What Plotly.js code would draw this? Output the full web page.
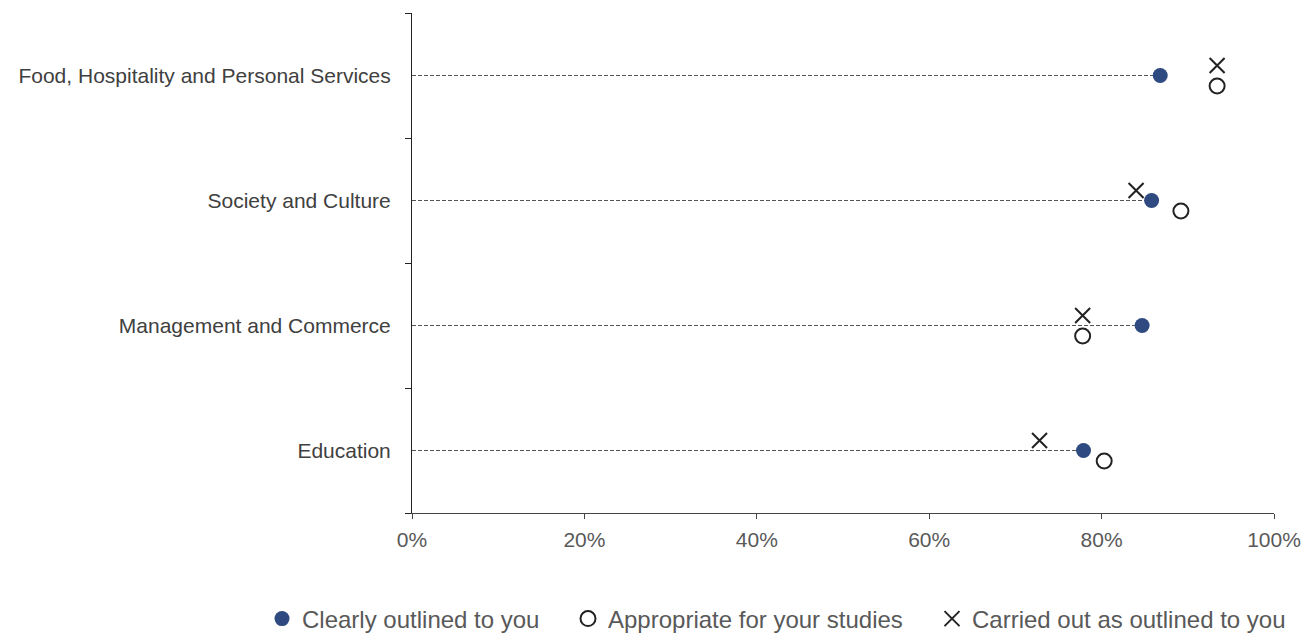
<!DOCTYPE html>
<html><head><meta charset="utf-8">
<script src="https://cdn.plot.ly/plotly-3.0.1.min.js"></script>
<style>html,body{margin:0;padding:0;background:#fff;}#chart{width:1303px;height:636px;}</style>
</head><body><div id="chart"></div>
<script>
const categories = ["Food, Hospitality and Personal Services","Society and Culture","Management and Commerce","Education"];
const clearlyOutlined = [0.868, 0.858, 0.847, 0.779];
const appropriate = [0.934, 0.892, 0.778, 0.803];
const carriedOut = [0.934, 0.840, 0.778, 0.728];
const seriesNames = ["Clearly outlined to you","Appropriate for your studies","Carried out as outlined to you"];
const xTickVals = [0,0.2,0.4,0.6,0.8,1.0];
const xTickText = ["0%","20%","40%","60%","80%","100%"];

const idx = categories.map((c,i)=>i+0.5);
const lx=[], ly=[];
categories.forEach((c,i)=>{ lx.push(0, clearlyOutlined[i], null); ly.push(idx[i], idx[i], null); });

const font = "Liberation Sans, Arial, sans-serif";
const traces = [
  {x:lx, y:ly, mode:'lines', line:{color:'#555', width:1, dash:'4px,2px'}, showlegend:false, hoverinfo:'skip'},
  {x:clearlyOutlined, y:idx, name:seriesNames[0], legend:'legend', mode:'markers', marker:{symbol:'circle', size:15, color:'#2E4A80'}},
  {x:appropriate, y:idx.map(v=>v+0.084), name:seriesNames[1], legend:'legend2', mode:'markers', marker:{symbol:'circle-open', size:15, color:'#222', line:{width:2}}},
  {x:carriedOut, y:idx.map(v=>v-0.08), name:seriesNames[2], legend:'legend3', mode:'markers', marker:{symbol:'x-thin-open', size:15, color:'#222', line:{width:2}}}
];
const legFont = {size:24, color:'#595959'};
const legBase = {orientation:'h', y:-0.212, yanchor:'middle', xanchor:'left', font:legFont, bgcolor:'rgba(0,0,0,0)', borderwidth:0, itemwidth:30};
const layout = {
  width:1303, height:636,
  margin:{l:412, r:29, t:13, b:123, autoexpand:false},
  paper_bgcolor:'#fff', plot_bgcolor:'#fff',
  font:{family:font, size:21, color:'#595959'},
  showlegend:true,
  legend:Object.assign({}, legBase, {x:(262-412)/862}),
  legend2:Object.assign({}, legBase, {x:(568-412)/862}),
  legend3:Object.assign({}, legBase, {x:(932-412)/862}),
  xaxis:{range:[0,1], tickvals:xTickVals, ticktext:xTickText, ticks:'outside', ticklen:5, tickcolor:'#444', showline:true, linecolor:'#444', linewidth:1, showgrid:false, zeroline:false, ticklabelstandoff:3, tickfont:{size:21, color:'#595959'}},
  yaxis:{range:[4,0], tickvals:idx, ticktext:categories, ticks:'', showline:true, linecolor:'#222', linewidth:1, showgrid:false, zeroline:false, ticklabelstandoff:16, tickfont:{size:21, color:'#404040'},
    minor:{tickvals:[0,1,2,3,4], ticks:'outside', ticklen:6, tickcolor:'#222'}}
};
Plotly.newPlot('chart', traces, layout, {displayModeBar:false, staticPlot:true});
</script></body></html>
